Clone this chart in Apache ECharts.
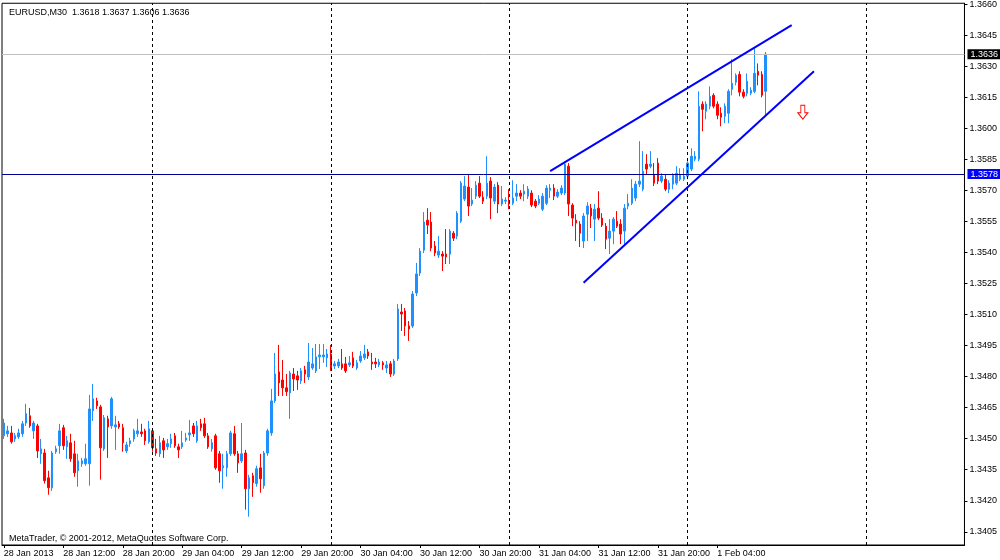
<!DOCTYPE html>
<html><head><meta charset="utf-8">
<script src="https://cdn.jsdelivr.net/npm/echarts@6/dist/echarts.min.js"></script>
<style>html,body{margin:0;padding:0;background:#fff}#c{width:1000px;height:560px}</style>
</head><body><div id="c"></div>
<script>
const symbolName = 'EURUSD,M30';
const copyright = 'MetaTrader, \u00A9 2001-2012, MetaQuotes Software Corp.';
const firstBarUTC = Date.UTC(2013, 0, 28, 4, 0);
const slotCount = 259;

const opens = [1.34514,1.34524,1.34528,1.34499,1.34509,1.34524,1.34576,1.34611,1.34538,1.34562,
1.34427,1.34431,1.34311,1.34263,1.34437,1.34466,1.34553,1.34461,1.34480,1.34427,
1.34345,1.34379,1.34379,1.34379,1.34635,1.34683,1.34654,1.34451,1.34596,1.34562,
1.34557,1.34572,1.34553,1.34441,1.34476,1.34499,1.34524,1.34533,1.34538,1.34485,
1.34538,1.34451,1.34427,1.34490,1.34461,1.34476,1.34514,1.34461,1.34461,1.34494,
1.34519,1.34562,1.34490,1.34572,1.34572,1.34514,1.34451,1.34514,1.34427,1.34359,
1.34359,1.34427,1.34524,1.34427,1.34393,1.34431,1.34258,1.34321,1.34283,1.34359,
1.34273,1.34431,1.34528,1.34683,1.34823,1.34784,1.34746,1.34722,1.34813,1.34804,
1.34780,1.34833,1.34799,1.34842,1.34828,1.34896,1.34896,1.34891,1.34910,1.34852,
1.34852,1.34862,1.34862,1.34857,1.34891,1.34842,1.34876,1.34891,1.34920,1.34871,
1.34871,1.34857,1.34867,1.34842,1.34862,1.34813,1.34886,1.35113,1.35118,1.35045,
1.35045,1.35205,1.35301,1.35412,1.35557,1.35548,1.35432,1.35388,1.35393,1.35393,
1.35393,1.35494,1.35480,1.35552,1.35659,1.35717,1.35635,1.35673,1.35736,1.35668,
1.35673,1.35746,1.35649,1.35726,1.35635,1.35649,1.35644,1.35639,1.35673,1.35688,
1.35683,1.35673,1.35688,1.35649,1.35639,1.35610,1.35639,1.35702,1.35712,1.35673,
1.35688,1.35688,1.35818,1.35630,1.35557,1.35538,1.35456,1.35586,1.35615,1.35562,
1.35615,1.35567,1.35528,1.35470,1.35504,1.35552,1.35538,1.35504,1.35625,1.35639,
1.35664,1.35731,1.35707,1.35828,1.35818,1.35779,1.35833,1.35746,1.35755,1.35707,
1.35731,1.35736,1.35755,1.35755,1.35770,1.35804,1.35852,1.35852,1.36118,1.36084,
1.36108,1.36161,1.36118,1.36074,1.36060,1.36074,1.36190,1.36224,1.36262,1.36176,
1.36171,1.36171,1.36180,1.36277,1.36262,1.3618];

const closes = [1.34576,1.34538,1.34485,1.34514,1.34528,1.34572,1.34621,1.34562,1.34576,1.34441,
1.34451,1.34297,1.34263,1.34431,1.34451,1.34538,1.34466,1.34490,1.34403,1.34335,
1.34393,1.34393,1.34403,1.34644,1.34693,1.34659,1.34456,1.34601,1.34557,1.34693,
1.34567,1.34557,1.34480,1.34470,1.34490,1.34538,1.34538,1.34524,1.34490,1.34548,
1.34456,1.34431,1.34480,1.34446,1.34476,1.34499,1.34466,1.34446,1.34480,1.34504,
1.34528,1.34524,1.34562,1.34553,1.34514,1.34461,1.34480,1.34359,1.34345,1.34369,
1.34427,1.34528,1.34427,1.34383,1.34427,1.34258,1.34311,1.34287,1.34355,1.34306,
1.34431,1.34538,1.34683,1.34813,1.34770,1.34746,1.34727,1.34818,1.34789,1.34784,
1.34828,1.34813,1.34871,1.34862,1.34896,1.34905,1.34905,1.34910,1.34837,1.34862,
1.34871,1.34842,1.34828,1.34867,1.34852,1.34867,1.34900,1.34910,1.34900,1.34862,
1.34862,1.34871,1.34857,1.34857,1.34813,1.34876,1.35127,1.35103,1.35045,1.35031,
1.35200,1.35297,1.35407,1.35548,1.35533,1.35422,1.35398,1.35407,1.35383,1.35379,
1.35504,1.35470,1.35591,1.35736,1.35722,1.35625,1.35654,1.35726,1.35673,1.35649,
1.35736,1.35664,1.35717,1.35635,1.35659,1.35654,1.35635,1.35664,1.35688,1.35673,
1.35697,1.35707,1.35630,1.35625,1.35659,1.35673,1.35712,1.35712,1.35673,1.35693,
1.35712,1.35828,1.35635,1.35567,1.35543,1.35494,1.35577,1.35625,1.35577,1.35610,
1.35567,1.35533,1.35465,1.35504,1.35562,1.35528,1.35490,1.35615,1.35639,1.35712,
1.35731,1.35746,1.35794,1.35804,1.35828,1.35736,1.35746,1.35770,1.35707,1.35736,
1.35775,1.35784,1.35775,1.35770,1.35833,1.35866,1.35866,1.36108,1.36093,1.36118,
1.36156,1.36108,1.36064,1.36055,1.36108,1.36180,1.36219,1.36258,1.36176,1.36156,
1.36229,1.36185,1.36267,1.36258,1.36161,1.3636];

const lows = [1.34499,1.34509,1.34476,1.34485,1.34499,1.34509,1.34562,1.34553,1.34499,1.34407,
1.34379,1.34283,1.34229,1.34248,1.34427,1.34427,1.34446,1.34403,1.34388,1.34316,
1.34268,1.34364,1.34369,1.34273,1.34586,1.34644,1.34302,1.34441,1.34407,1.34548,
1.34446,1.34548,1.34437,1.34431,1.34461,1.34485,1.34509,1.34509,1.34470,1.34476,
1.34437,1.34417,1.34412,1.34407,1.34446,1.34456,1.34456,1.34407,1.34451,1.34485,
1.34490,1.34509,1.34480,1.34538,1.34504,1.34451,1.34437,1.34350,1.34287,1.34258,
1.34316,1.34417,1.34417,1.34335,1.34383,1.34157,1.34123,1.34219,1.34268,1.34239,
1.34258,1.34417,1.34514,1.34673,1.34707,1.34707,1.34707,1.34596,1.34731,1.34736,
1.34765,1.34770,1.34784,1.34833,1.34818,1.34837,1.34867,1.34847,1.34828,1.34837,
1.34842,1.34833,1.34818,1.34847,1.34842,1.34833,1.34867,1.34881,1.34886,1.34833,
1.34842,1.34847,1.34833,1.34818,1.34799,1.34804,1.34876,1.35021,1.34997,1.34973,
1.35036,1.35190,1.35287,1.35398,1.35490,1.35407,1.35383,1.35374,1.35311,1.35345,
1.35345,1.35456,1.35465,1.35543,1.35649,1.35577,1.35625,1.35659,1.35664,1.35635,
1.35659,1.35562,1.35635,1.35591,1.35625,1.35635,1.35610,1.35630,1.35649,1.35659,
1.35649,1.35659,1.35620,1.35615,1.35630,1.35601,1.35630,1.35664,1.35654,1.35664,
1.35678,1.35678,1.35577,1.35528,1.35456,1.35427,1.35422,1.35456,1.35519,1.35456,
1.35557,1.35524,1.35417,1.35393,1.35441,1.35519,1.35441,1.35441,1.35610,1.35630,
1.35649,1.35717,1.35697,1.35779,1.35808,1.35722,1.35731,1.35736,1.35697,1.35688,
1.35707,1.35726,1.35746,1.35746,1.35755,1.35794,1.35842,1.35842,1.35987,1.36045,
1.36093,1.36098,1.36045,1.36011,1.36026,1.36026,1.36161,1.36209,1.36156,1.36146,
1.36156,1.36161,1.36171,1.36209,1.36151,1.3606];

const highs = [1.34596,1.34562,1.34562,1.34528,1.34548,1.34586,1.34669,1.34649,1.34586,1.34572,
1.34499,1.34451,1.34345,1.34441,1.34466,1.34572,1.34567,1.34514,1.34524,1.34490,
1.34427,1.34407,1.34476,1.34712,1.34765,1.34698,1.34664,1.34615,1.34611,1.34702,
1.34611,1.34586,1.34572,1.34485,1.34504,1.34548,1.34596,1.34572,1.34548,1.34586,
1.34548,1.34499,1.34514,1.34504,1.34499,1.34524,1.34528,1.34476,1.34538,1.34528,
1.34591,1.34576,1.34586,1.34596,1.34601,1.34528,1.34499,1.34524,1.34441,1.34427,
1.34441,1.34538,1.34562,1.34441,1.34576,1.34446,1.34326,1.34335,1.34369,1.34427,
1.34441,1.34548,1.34741,1.34915,1.34954,1.34881,1.34813,1.34828,1.34842,1.34828,
1.34842,1.34852,1.34963,1.34939,1.34958,1.34958,1.34958,1.34934,1.34954,1.34876,
1.34886,1.34934,1.34896,1.34900,1.34920,1.34881,1.34924,1.34954,1.34934,1.34915,
1.34891,1.34886,1.34876,1.34876,1.34876,1.34886,1.35152,1.35152,1.35132,1.35069,
1.35214,1.35350,1.35422,1.35596,1.35615,1.35596,1.35456,1.35480,1.35407,1.35514,
1.35514,1.35504,1.35601,1.35746,1.35770,1.35775,1.35712,1.35746,1.35770,1.35697,
1.35866,1.35765,1.35731,1.35741,1.35722,1.35668,1.35707,1.35750,1.35731,1.35702,
1.35731,1.35722,1.35702,1.35659,1.35678,1.35688,1.35726,1.35731,1.35731,1.35707,
1.35726,1.35833,1.35833,1.35639,1.35586,1.35552,1.35591,1.35644,1.35635,1.35635,
1.35697,1.35591,1.35543,1.35562,1.35572,1.35601,1.35562,1.35635,1.35683,1.35755,
1.35746,1.35939,1.35891,1.35876,1.35891,1.35833,1.35857,1.35784,1.35779,1.35750,
1.35784,1.35818,1.35808,1.35808,1.35842,1.35905,1.35891,1.36180,1.36132,1.36132,
1.36204,1.36171,1.36132,1.36103,1.36122,1.36190,1.36335,1.36267,1.36277,1.36190,
1.36267,1.36200,1.36388,1.36315,1.36277,1.3637];

const yTicks = [1.3405,1.3420,1.3435,1.3450,1.3465,1.3480,1.3495,1.3510,1.3525,1.3540,
1.3555,1.3570,1.3585,1.3600,1.3615,1.3630,1.3645,1.3660];
const xTickLabels = ['28 Jan 2013','28 Jan 12:00','28 Jan 20:00','29 Jan 04:00','29 Jan 12:00',
'29 Jan 20:00','30 Jan 04:00','30 Jan 12:00','30 Jan 20:00','31 Jan 04:00','31 Jan 12:00',
'31 Jan 20:00','1 Feb 04:00'];
const xTickEvery = 16;
const daySeparators = [40, 88, 136, 184, 232];
const bidPrice = 1.3636;
const levelPrice = 1.3578;
const upperTrend = [[147, 1.35794], [212, 1.36500]];
const lowerTrend = [[156, 1.35254], [218, 1.36277]];
const arrowPoint = [215, 1.36079];

const months = ['Jan','Feb','Mar','Apr','May','Jun','Jul','Aug','Sep','Oct','Nov','Dec'];
const categories = [];
for (let i = 0; i < slotCount; i++) {
  const d = new Date(firstBarUTC + i * 1800000);
  const hh = String(d.getUTCHours()).padStart(2, '0');
  const mm = String(d.getUTCMinutes()).padStart(2, '0');
  categories.push(d.getUTCDate() + ' ' + months[d.getUTCMonth()] + ' ' + hh + ':' + mm);
}
const candles = opens.map((o, i) => [o, closes[i], lows[i], highs[i]]);
const last = candles.length - 1;
const headerText = symbolName + '  ' + opens[last].toFixed(4) + ' ' + highs[last].toFixed(4) + ' ' +
  lows[last].toFixed(4) + ' ' + closes[last].toFixed(4);

const FONT = 'Liberation Sans';
const chart = echarts.init(document.getElementById('c'), null, {renderer: 'canvas'});
const tickShown = (idx) => idx % xTickEvery === 0 && idx / xTickEvery < xTickLabels.length;

const markLines = [];
daySeparators.forEach(ix => markLines.push({
  xAxis: ix, lineStyle: {color: '#000', width: 1, type: [3, 3]}, label: {show: false}
}));
markLines.push({
  yAxis: bidPrice, lineStyle: {color: '#c0c0c0', width: 1, type: 'solid'},
  label: {show: true, position: 'end', distance: 3, formatter: bidPrice.toFixed(4),
    backgroundColor: '#000', color: '#fff', padding: [1, 3, 0, 3], fontSize: 9, fontFamily: FONT}
});
markLines.push({
  yAxis: levelPrice, lineStyle: {color: '#000090', width: 1, type: 'solid'},
  label: {show: true, position: 'end', distance: 3, formatter: levelPrice.toFixed(4),
    backgroundColor: '#0000ff', color: '#fff', padding: [1, 3, 0, 3], fontSize: 9, fontFamily: FONT}
});
[upperTrend, lowerTrend].forEach(t => markLines.push([
  {coord: t[0], lineStyle: {color: '#0000ff', width: 2, type: 'solid'}, label: {show: false}},
  {coord: t[1], lineStyle: {color: '#0000ff', width: 2, type: 'solid'}, label: {show: false}}
]));

chart.setOption({
  animation: false,
  backgroundColor: '#fff',
  textStyle: {fontFamily: FONT},
  title: [
    {text: headerText, left: 4, top: 3, textStyle: {fontSize: 9, fontWeight: 'normal', color: '#000', fontFamily: FONT}},
    {text: copyright, left: 4, top: 529, textStyle: {fontSize: 9, fontWeight: 'normal', color: '#000', fontFamily: FONT}}
  ],
  grid: {left: 2, right: 35, top: 2, bottom: 15, show: true, borderColor: '#000', borderWidth: 1, backgroundColor: '#fff'},
  xAxis: {
    type: 'category', data: categories, boundaryGap: true,
    axisLine: {show: true, lineStyle: {color: '#000', width: 1}},
    axisTick: {show: true, alignWithLabel: true, length: 3, interval: tickShown, lineStyle: {color: '#000'}},
    axisLabel: {show: true, interval: tickShown, align: 'left', margin: 4, fontSize: 9, color: '#000', fontFamily: FONT,
      formatter: (v, idx) => xTickLabels[idx / xTickEvery]},
    splitLine: {show: false}
  },
  yAxis: {
    type: 'value', position: 'right', min: 1.33986, max: 1.36606, scale: true,
    axisLine: {show: true, lineStyle: {color: '#000', width: 1}},
    axisTick: {show: true, length: 3, customValues: yTicks, lineStyle: {color: '#000'}},
    axisLabel: {show: true, customValues: yTicks, margin: 5, fontSize: 9, color: '#000', fontFamily: FONT,
      formatter: v => v.toFixed(4)},
    splitLine: {show: false}
  },
  series: [{
    type: 'candlestick',
    data: candles,
    barWidth: 2,
    itemStyle: {color: '#1e90ff', color0: '#ff0000', borderColor: '#1e90ff', borderColor0: '#ff0000', borderWidth: 1},
    markLine: {silent: true, symbol: ['none', 'none'], animation: false, precision: 5, data: markLines},
    markPoint: {
      silent: true, animation: false,
      symbol: 'path://M3,0 L7,0 L7,7 L10,7 L5,13 L0,7 L3,7 Z',
      symbolSize: [10, 14],
      itemStyle: {color: '#fff', borderColor: '#ff0000', borderWidth: 1},
      label: {show: false},
      data: [{coord: arrowPoint}]
    }
  }]
});
</script></body></html>
